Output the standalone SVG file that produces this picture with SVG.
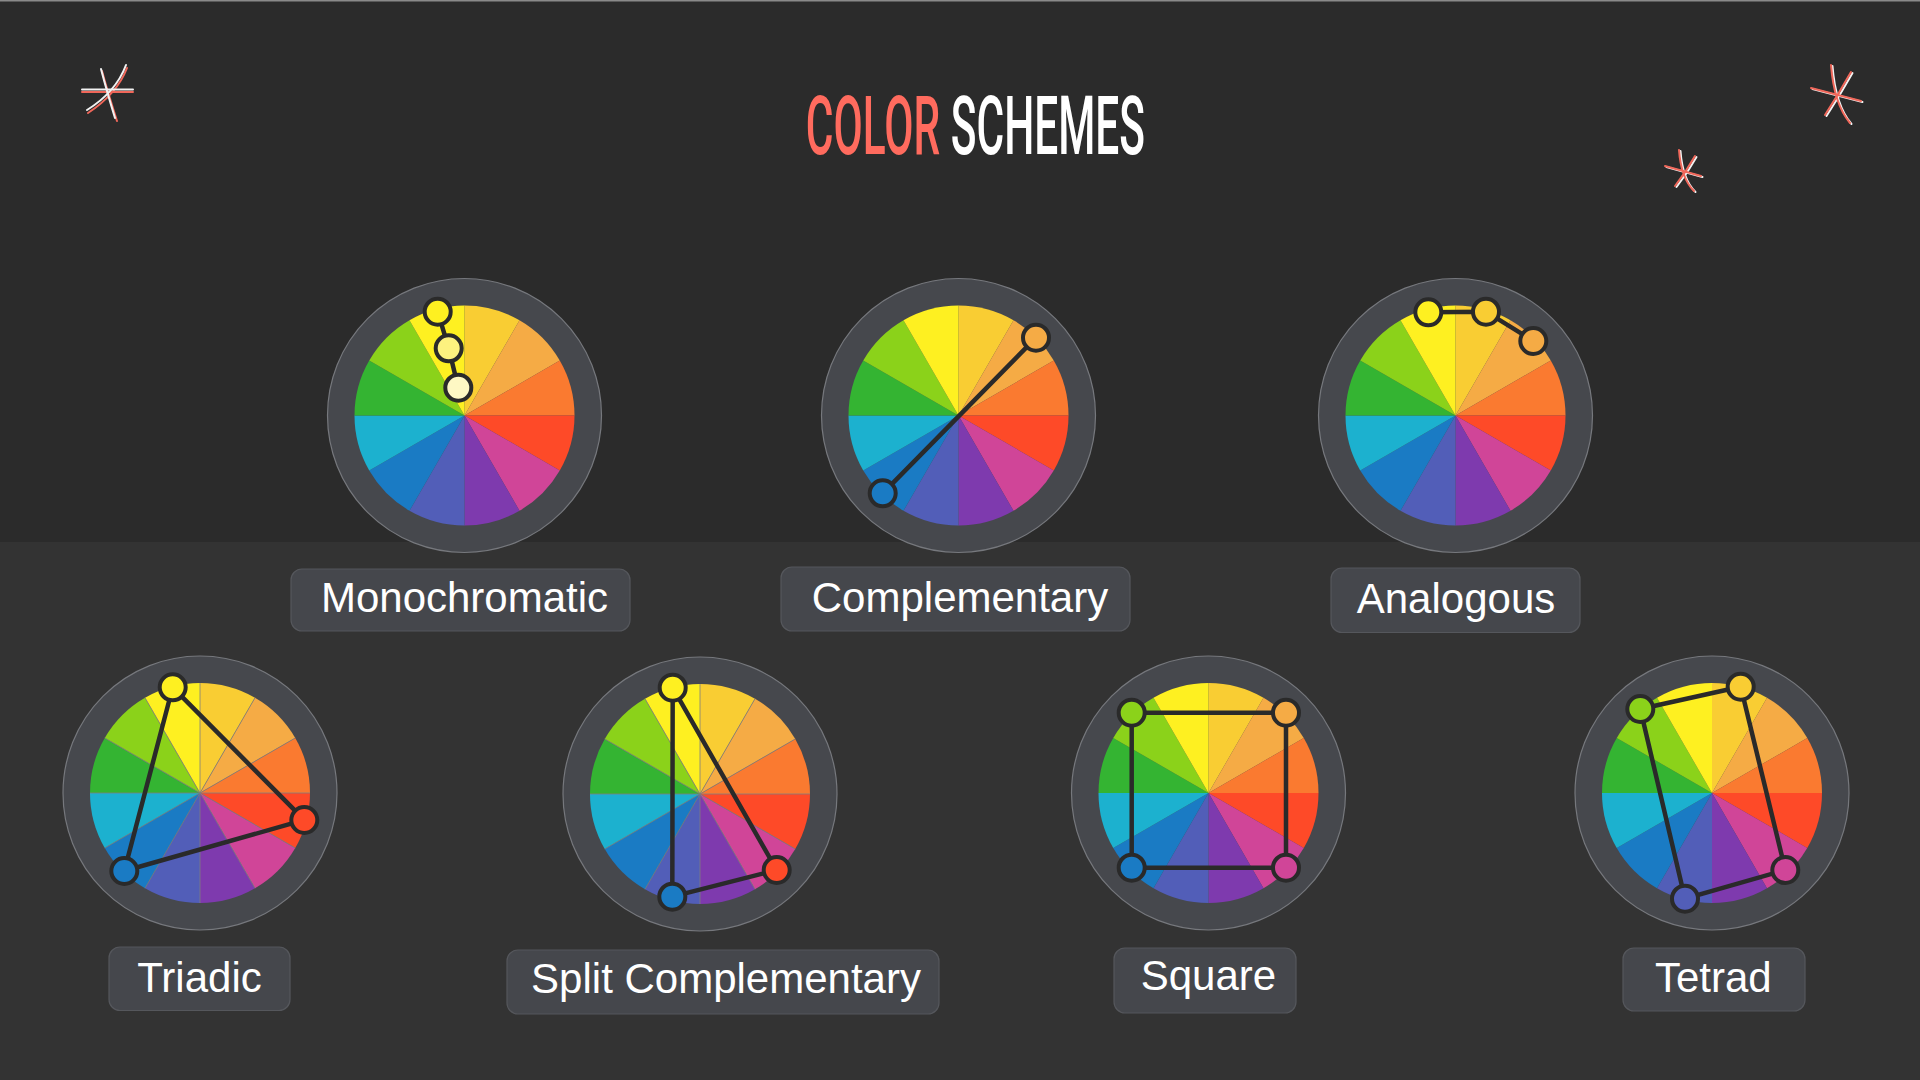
<svg xmlns="http://www.w3.org/2000/svg" xmlns:xlink="http://www.w3.org/1999/xlink" width="1920" height="1080" viewBox="0 0 1920 1080">
<style>
.ring{fill:#46484d;stroke:#76787d;stroke-width:1.2}
.box{fill:#45474c;stroke:#55575c;stroke-width:1.2}
.lbl{font-family:"Liberation Sans",Arial,sans-serif;font-size:42px;fill:#ffffff;text-anchor:middle}
.ttl{font-family:Roboto,"Liberation Sans",sans-serif;font-size:81px;font-weight:500}
.con{stroke:#2a2a2a;stroke-width:4.5;fill:none;stroke-linecap:round}
.dot{stroke:#2a2a2a;stroke-width:4}
.sw{stroke:#f2f2f2;stroke-width:2;fill:none;stroke-linecap:round}
.sc{stroke:#f0675a;stroke-width:2;fill:none;stroke-linecap:round}
</style>
<defs>
<g id="wheel">
<path d="M0,0 L0,-110 A110,110 0 0 1 55,-95.26 Z" fill="#F9CD33"/>
<path d="M0,0 L55,-95.26 A110,110 0 0 1 95.26,-55 Z" fill="#F5AB45"/>
<path d="M0,0 L95.26,-55 A110,110 0 0 1 110,0 Z" fill="#FA7A30"/>
<path d="M0,0 L110,0 A110,110 0 0 1 95.26,55 Z" fill="#FE4A28"/>
<path d="M0,0 L95.26,55 A110,110 0 0 1 55,95.26 Z" fill="#D04598"/>
<path d="M0,0 L55,95.26 A110,110 0 0 1 0,110 Z" fill="#7E3AAE"/>
<path d="M0,0 L0,110 A110,110 0 0 1 -55,95.26 Z" fill="#525EB8"/>
<path d="M0,0 L-55,95.26 A110,110 0 0 1 -95.26,55 Z" fill="#1A7BC4"/>
<path d="M0,0 L-95.26,55 A110,110 0 0 1 -110,0 Z" fill="#1CB1CF"/>
<path d="M0,0 L-110,0 A110,110 0 0 1 -95.26,-55 Z" fill="#34B432"/>
<path d="M0,0 L-95.26,-55 A110,110 0 0 1 -55,-95.26 Z" fill="#8BD21A"/>
<path d="M0,0 L-55,-95.26 A110,110 0 0 1 0,-110 Z" fill="#FEF021"/>
</g>
<g id="spokes" stroke="#7d7d80" stroke-width="0.8" fill="none">
<path d="M0,-110 L0,110 M110,0 L-110,0 M55,-95.26 L-55,95.26 M95.26,-55 L-95.26,55 M95.26,55 L-95.26,-55 M55,95.26 L-55,-95.26"/>
</g>
</defs>

<rect x="0" y="0" width="1920" height="1080" fill="#333333"/>
<rect x="0" y="0" width="1920" height="542" fill="#2b2b2b"/>
<rect x="0" y="0" width="1920" height="1.5" fill="#8a8a8a"/>

<g id="title">
<text class="ttl" transform="translate(805.7,154.3) scale(0.524,1)" x="0" y="0"><tspan fill="#FF6B5E">COLOR</tspan><tspan fill="#FFFFFF"> SCHEMES</tspan></text>
</g>

<g id="stars">
<g transform="translate(0,1)">
<path class="sc" d="M82,91 L133,91"/>
<path class="sc" d="M102,70 Q108,92 117,120"/>
<path class="sc" d="M127,67 Q117,93 88,112"/>
</g>
<g>
<path class="sw" d="M82,89.5 L133,89.5"/>
<path class="sw" d="M101,69 Q107,92 115,118"/>
<path class="sw" d="M126,65 Q116,92 87,110"/>
</g>
<g transform="translate(1.5,1)">
<path class="sw" d="M1811,88 L1861,101"/>
<path class="sw" d="M1831,65 Q1834,104 1850,123"/>
<path class="sw" d="M1851,72 Q1838,95 1825,115"/>
</g>
<g>
<path class="sc" d="M1811,88 L1861,101"/>
<path class="sc" d="M1831,65 Q1834,104 1850,123"/>
<path class="sc" d="M1851,72 Q1838,95 1825,115"/>
</g>
<g transform="translate(1.5,1)">
<path class="sw" d="M1665,166 L1701,176"/>
<path class="sw" d="M1679,150 Q1681,178 1694,191"/>
<path class="sw" d="M1695,156 Q1686,172 1675,186"/>
</g>
<g>
<path class="sc" d="M1665,166 L1701,176"/>
<path class="sc" d="M1679,150 Q1681,178 1694,191"/>
<path class="sc" d="M1695,156 Q1686,172 1675,186"/>
</g>
</g>

<g id="monochromatic">
<circle class="ring" cx="464.5" cy="415.5" r="137"/>
<use xlink:href="#wheel" href="#wheel" transform="translate(464.5,415.5)"/>
<rect class="box" x="291" y="569" width="339" height="62" rx="11"/>
<text class="lbl" x="464.5" y="612">Monochromatic</text>
</g>
<g id="complementary">
<circle class="ring" cx="958.5" cy="415.5" r="137"/>
<use xlink:href="#wheel" href="#wheel" transform="translate(958.5,415.5)"/>
<rect class="box" x="781" y="567" width="349" height="64" rx="11"/>
<text class="lbl" x="960" y="612">Complementary</text>
</g>
<g id="analogous">
<circle class="ring" cx="1455.5" cy="415.5" r="137"/>
<use xlink:href="#wheel" href="#wheel" transform="translate(1455.5,415.5)"/>
<rect class="box" x="1331" y="568" width="249" height="64.5" rx="11"/>
<text class="lbl" x="1456" y="612.5">Analogous</text>
</g>
<g id="triadic">
<circle class="ring" cx="200" cy="793" r="137"/>
<use xlink:href="#wheel" href="#wheel" transform="translate(200,793)"/>
<use xlink:href="#spokes" href="#spokes" transform="translate(200,793)"/>
<rect class="box" x="109" y="947" width="181" height="63.5" rx="11"/>
<text class="lbl" x="199.5" y="992">Triadic</text>
</g>
<g id="split-complementary">
<circle class="ring" cx="700" cy="794" r="137"/>
<use xlink:href="#wheel" href="#wheel" transform="translate(700,794)"/>
<use xlink:href="#spokes" href="#spokes" transform="translate(700,794)"/>
<rect class="box" x="507" y="950" width="432" height="64" rx="11"/>
<text class="lbl" x="726" y="993">Split Complementary</text>
</g>
<g id="square">
<circle class="ring" cx="1208.5" cy="793" r="137"/>
<use xlink:href="#wheel" href="#wheel" transform="translate(1208.5,793)"/>
<rect class="box" x="1114" y="948" width="182" height="65" rx="11"/>
<text class="lbl" x="1208.4" y="990">Square</text>
</g>
<g id="tetrad">
<circle class="ring" cx="1712" cy="793" r="137"/>
<use xlink:href="#wheel" href="#wheel" transform="translate(1712,793)"/>
<rect class="box" x="1623" y="948" width="182" height="63" rx="11"/>
<text class="lbl" x="1713.3" y="991.5">Tetrad</text>
</g>

<g id="connectors">
<polyline class="con" points="437.7,311.7 448.7,348.3 458.3,387.7"/>
<line class="con" x1="1036" y1="337.7" x2="882.7" y2="493.3"/>
<polyline class="con" points="1428.3,312.3 1486,311.7 1533.3,341"/>
<polygon class="con" points="172.7,687.3 304.3,820 124.3,871"/>
<polygon class="con" points="672.7,687.7 776.7,870 672.3,896.7"/>
<polygon class="con" points="1131.7,712.7 1286,712.7 1286,867.7 1131.7,867.7"/>
<polygon class="con" points="1640.3,709 1740.7,686.7 1785.3,870 1685,898.7"/>
</g>

<g id="dots">
<g id="mono-dots">
<circle class="dot" cx="437.7" cy="311.7" r="13" fill="#FEF021"/>
<circle class="dot" cx="448.7" cy="348.3" r="13" fill="#FDF27F"/>
<circle class="dot" cx="458.3" cy="387.7" r="13" fill="#FEF8C4"/>
</g>
<g id="comp-dots">
<circle class="dot" cx="1036" cy="337.7" r="13" fill="#F5AB45"/>
<circle class="dot" cx="882.7" cy="493.3" r="13" fill="#1A7BC4"/>
</g>
<g id="analog-dots">
<circle class="dot" cx="1428.3" cy="312.3" r="13" fill="#FEF021"/>
<circle class="dot" cx="1486" cy="311.7" r="13" fill="#F9CD33"/>
<circle class="dot" cx="1533.3" cy="341" r="13" fill="#F5AB45"/>
</g>
<g id="triadic-dots">
<circle class="dot" cx="172.7" cy="687.3" r="13" fill="#FEF021"/>
<circle class="dot" cx="304.3" cy="820" r="13" fill="#FE4A28"/>
<circle class="dot" cx="124.3" cy="871" r="13" fill="#1A7BC4"/>
</g>
<g id="split-dots">
<circle class="dot" cx="672.7" cy="687.7" r="13" fill="#FEF021"/>
<circle class="dot" cx="776.7" cy="870" r="13" fill="#FE4A28"/>
<circle class="dot" cx="672.3" cy="896.7" r="13" fill="#1A7BC4"/>
</g>
<g id="square-dots">
<circle class="dot" cx="1131.7" cy="712.7" r="13" fill="#8BD21A"/>
<circle class="dot" cx="1286" cy="712.7" r="13" fill="#F5AB45"/>
<circle class="dot" cx="1286" cy="867.7" r="13" fill="#D04598"/>
<circle class="dot" cx="1131.7" cy="867.7" r="13" fill="#1A7BC4"/>
</g>
<g id="tetrad-dots">
<circle class="dot" cx="1640.3" cy="709" r="13" fill="#8BD21A"/>
<circle class="dot" cx="1740.7" cy="686.7" r="13" fill="#F9CD33"/>
<circle class="dot" cx="1785.3" cy="870" r="13" fill="#D04598"/>
<circle class="dot" cx="1685" cy="898.7" r="13" fill="#525EB8"/>
</g>
</g>
</svg>
